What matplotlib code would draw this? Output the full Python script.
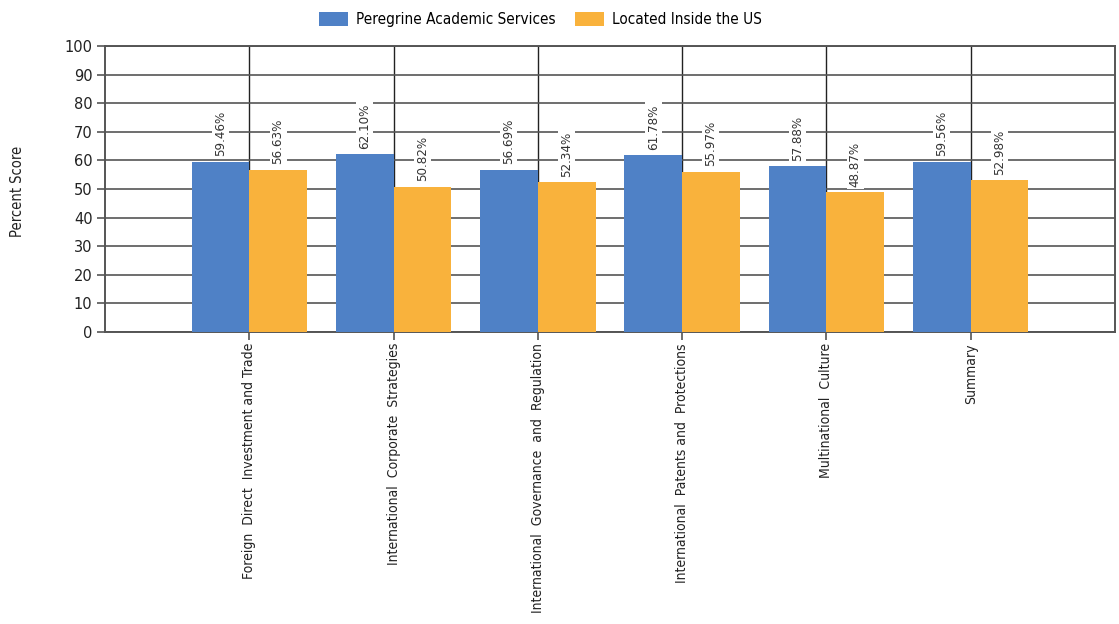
import matplotlib
matplotlib.use("Agg")
import matplotlib.pyplot as plt
import numpy as np
from matplotlib import font_manager

categories = [
    "Foreign  Direct  Investment and Trade",
    "International  Corporate  Strategies",
    "International  Governance  and  Regulation",
    "International  Patents and  Protections",
    "Multinational  Culture",
    "Summary",
]
peregrine = [59.46, 62.10, 56.69, 61.78, 57.88, 59.56]
inside_us = [56.63, 50.82, 52.34, 55.97, 48.87, 52.98]
series_names = ["Peregrine Academic Services", "Located Inside the US"]

blue = "#4f81c6"
orange = "#f9b23c"

# pick a condensed face if one is around
names = {f.name for f in font_manager.fontManager.ttflist}
narrow = [n for n in ("Liberation Sans Narrow", "DejaVu Sans Condensed") if n in names]
narrow = narrow + ["DejaVu Sans"]

fig = plt.figure(figsize=(11.19, 6.24), dpi=100, facecolor="white")
ax = fig.add_axes([0.0938, 0.468, 0.9026, 0.4583])

x = np.arange(1, len(categories) + 1)
w = 0.4
b1 = ax.bar(x - w / 2, peregrine, w, color=blue, label=series_names[0], zorder=3)
b2 = ax.bar(x + w / 2, inside_us, w, color=orange, label=series_names[1], zorder=3)

ax.set_xlim(0, len(categories) + 1)
ax.set_ylim(0, 100)
ax.set_yticks(range(0, 101, 10))
ax.set_xticks(x)
ax.set_xticklabels(categories, rotation=90, va="top", ha="center",
                   family=narrow, stretch="condensed", fontsize=10, color="#222222")
ax.tick_params(axis="y", length=6, width=1.2, color="#555555", labelsize=10.5,
               labelcolor="#222222", pad=3)
ax.tick_params(axis="x", length=6, width=1.2, color="#555555", pad=2)

ax.grid(axis="y", color="#555555", linewidth=1.2, zorder=1)
ax.grid(axis="x", color="#222222", linewidth=1.0, zorder=1)
for s in ax.spines.values():
    s.set_color("#555555")
    s.set_linewidth(1.4)

# value labels above each bar, rotated
for bars, vals in ((b1, peregrine), (b2, inside_us)):
    for r, v in zip(bars, vals):
        ax.annotate("%.2f%%" % v, (r.get_x() + r.get_width() / 2, v),
                    xytext=(0, 4), textcoords="offset points",
                    rotation=90, ha="center", va="bottom",
                    family=narrow, stretch="condensed", fontsize=9.5,
                    color="#333333", zorder=4,
                    bbox=dict(boxstyle="square,pad=0.15", fc="white", ec="none"))

fig.text(0.016, 0.694, "Percent Score", rotation=90, va="center", ha="center",
         family=narrow, stretch="condensed", fontsize=10.5, color="#222222")

fig.legend(loc="upper center", bbox_to_anchor=(0.483, 1.003), ncol=2, frameon=False,
           prop={"family": narrow, "stretch": "condensed", "size": 11},
           handlelength=1.9, handleheight=1.0, columnspacing=1.3, handletextpad=0.5)

fig.savefig("out.png", dpi=100, facecolor="white")
